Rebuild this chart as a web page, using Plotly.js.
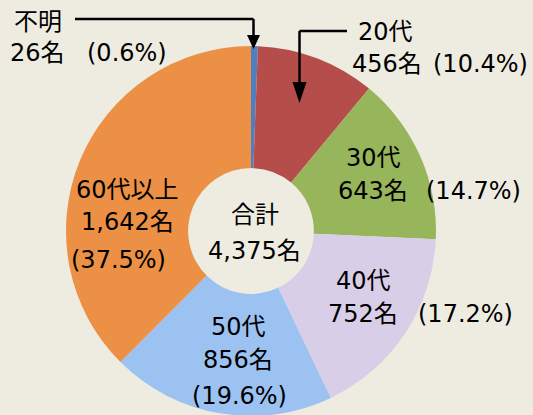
<!DOCTYPE html>
<html>
<head>
<meta charset="utf-8">
<script src="https://cdn.plot.ly/plotly-3.0.1.min.js"></script>
<style>
html,body{margin:0;padding:0;background:#EEECE1;overflow:hidden;}
#chart{width:533px;height:417px;}
</style>
</head>
<body>
<div id="chart"></div>
<script>
// ---- data ----
var categories = ["不明", "20代", "30代", "40代", "50代", "60代以上"];
var counts = [26, 456, 643, 752, 856, 1642];
var colors = ["#4F7FC0", "#B54D4B", "#97B55A", "#D9CEE8", "#9CC2F2", "#EB9045"];
var totalLabel = "合計";

// ---- layout helpers (pixel -> paper) ----
var W = 533, H = 417;
function px(x){ return x / W; }
function py(y){ return 1 - y / H; }
function fmt(n){ return String(n).replace(/\B(?=(\d{3})+(?!\d))/g, ","); }

var total = counts.reduce(function(a,b){return a+b;}, 0);
var pct = counts.map(function(v){ return "(" + (v/total*100).toFixed(1) + "%)"; });
var nameTxt = counts.map(function(v){ return fmt(v) + "名"; });

var FONT = {family: "DejaVu Sans, 'Noto Sans CJK JP', sans-serif", size: 24, color: "#000000"};

// label positions (pixel centers): [nameLine, countLine, pctLine]
var pos = [
  [[38, 22], [37, 53], [127, 53]],
  [[385, 32], [387, 64], [480, 64]],
  [[373, 158], [373, 191], [473, 191]],
  [[363, 281], [363, 314], [465, 314]],
  [[238, 327], [238, 360], [239, 396]],
  [[127, 190], [127, 222], [118, 260]]
];

var annotations = [];
function addText(t, p){
  annotations.push({text: t, x: px(p[0]), y: py(p[1]), xref: "paper", yref: "paper",
    xanchor: "center", yanchor: "middle", showarrow: false, font: FONT});
}
for (var i = 0; i < categories.length; i++) {
  addText(categories[i], pos[i][0]);
  addText(nameTxt[i], pos[i][1]);
  addText(pct[i], pos[i][2]);
}
addText(totalLabel, [255, 215]);
addText(fmt(total) + "名", [254, 251]);

function seg(x0,y0,x1,y1){
  return {type:"line", xref:"paper", yref:"paper", x0:px(x0), y0:py(y0), x1:px(x1), y1:py(y1),
    line:{color:"#000000", width:2.5}};
}
function tri(tx,ty,baseY,hw){
  var p = "M " + px(tx-hw) + "," + py(baseY) + " L " + px(tx+hw) + "," + py(baseY) +
          " L " + px(tx) + "," + py(ty) + " Z";
  return {type:"path", xref:"paper", yref:"paper", path:p, fillcolor:"#000000", line:{width:0}};
}
var shapes = [
  seg(75, 19, 253.5, 19), seg(253.5, 19, 253.5, 36), tri(253.5, 49, 35, 6.5),
  seg(347, 31, 299.5, 31), seg(299.5, 31, 299.5, 84), tri(299.5, 103, 82, 7)
];

// pie circle: center (251,231), radius 185
var cx = 251, cy = 231, r = 185;
var trace = {
  type: "pie",
  labels: categories,
  values: counts,
  sort: false,
  direction: "clockwise",
  rotation: 0,
  hole: 0.34,
  textinfo: "none",
  hoverinfo: "none",
  marker: {colors: colors, line: {width: 0}},
  domain: {x: [px(cx - r), px(cx + r)], y: [py(cy + r), py(cy - r)]}
};

var layout = {
  width: W, height: H,
  margin: {l:0, r:0, t:0, b:0},
  paper_bgcolor: "#EEECE1",
  plot_bgcolor: "#EEECE1",
  showlegend: false,
  annotations: annotations,
  shapes: shapes
};

Plotly.newPlot("chart", [trace], layout, {staticPlot: true, displayModeBar: false});
</script>
</body>
</html>
